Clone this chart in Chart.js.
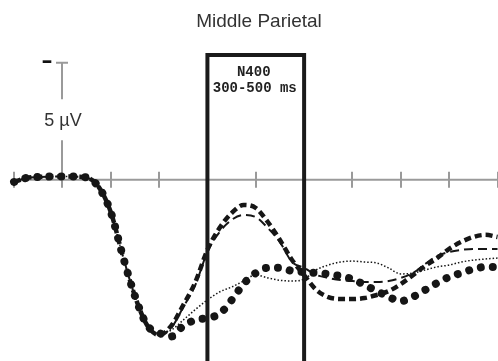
<!DOCTYPE html>
<html>
<head>
<meta charset="utf-8">
<script src="https://cdn.jsdelivr.net/npm/chart.js@4.4.1/dist/chart.umd.min.js"></script>
<style>
  html, body { margin: 0; padding: 0; background: #fff; }
  #erp { display: block; }
</style>
</head>
<body>
<canvas id="erp" width="498" height="361"></canvas>
<script>
// time points (ms) and amplitudes (µV, positive plotted down)
const times = [-100, -75, -50, -25, 0, 25, 50, 75, 100, 125, 150, 175, 200, 225, 250, 275, 300, 325, 350, 375,
  400, 425, 450, 475, 500, 525, 550, 575, 600, 625, 650, 675, 700, 725, 750, 775, 800, 825, 850, 875, 900];

const thickDashed = [0.1, -0.07, -0.11, -0.13, -0.13, -0.13, -0.09, 0.31, 1.38, 3.26, 4.97, 6.21, 6.64,
  6.25, 5.36, 4.38, 3.0, 2.07, 1.43, 1.08, 1.21, 1.81, 2.58, 3.43, 4.08, 4.71, 5.02, 5.1, 5.1, 5.06,
  4.93, 4.76, 4.46, 4.08, 3.69, 3.35, 2.96, 2.66, 2.45, 2.36, 2.45];

const thinDashed = [0.1, -0.07, -0.11, -0.13, -0.13, -0.13, -0.09, 0.31, 1.38, 3.26, 4.97, 6.21, 6.6,
  6.34, 5.45, 4.5, 3.09, 2.24, 1.72, 1.51, 1.6, 2.07, 2.67, 3.52, 3.77, 4.07, 4.2, 4.29, 4.33, 4.37,
  4.37, 4.33, 4.2, 3.99, 3.61, 3.26, 3.09, 3.0, 2.96, 2.96, 2.96];

const fineDotted = [0.1, -0.07, -0.11, -0.13, -0.13, -0.13, -0.09, 0.31, 1.38, 3.26, 4.97, 6.21, 6.6,
  6.43, 6.0, 5.55, 5.14, 4.8, 4.59, 4.33, 4.07, 4.2, 4.3, 4.33, 4.25, 3.86, 3.65, 3.52, 3.48, 3.52,
  3.56, 3.78, 4.03, 3.99, 3.86, 3.73, 3.65, 3.52, 3.44, 3.39, 3.35];

const bigDots = [0.1, -0.07, -0.11, -0.13, -0.13, -0.13, -0.09, 0.31, 1.38, 3.26, 4.97, 6.21, 6.55,
  6.7, 6.25, 6.0, 5.91, 5.74, 5.15, 4.45, 3.99, 3.77, 3.77, 3.9, 3.95, 3.99, 4.03, 4.12, 4.25, 4.5,
  4.76, 5.01, 5.19, 5.01, 4.72, 4.42, 4.16, 3.99, 3.82, 3.73, 3.73];

// N400 window and x axis ticks
const windowStart = 300;
const windowEnd = 500;
const windowTop = -5.33;
const tickValues = [-100, 0, 100, 200, 300, 400, 500, 600, 700, 800, 900];
const scaleBar = 5;

const ink = "#161616";
const axisGray = "#9a9a9a";

const toPoints = (vals) => vals.map((v, i) => ({ x: times[i], y: v }));

//Decorations: axis, scale bar and the texts
const erpDecor = {
  id: "erpDecor",
  beforeDatasetsDraw(chart) {
    const { ctx, scales: { x, y } } = chart;
    const y0 = y.getPixelForValue(0);
    ctx.save();
    ctx.strokeStyle = axisGray;
    ctx.lineWidth = 2;
    ctx.beginPath();
    ctx.moveTo(x.getPixelForValue(-105), y0);
    ctx.lineTo(x.getPixelForValue(901), y0);
    ctx.stroke();
    tickValues.forEach((t) => {
      const px = Math.round(x.getPixelForValue(t));
      ctx.beginPath();
      ctx.moveTo(px, y0 - 8);
      ctx.lineTo(px, y0 + 8);
      ctx.stroke();
    });

    // scale bar on the zero line
    const bx = Math.round(x.getPixelForValue(0));
    const top = y.getPixelForValue(-scaleBar);
    const mid = y.getPixelForValue(-scaleBar / 2) - 1;
    ctx.beginPath();
    ctx.moveTo(bx, top);
    ctx.lineTo(bx, mid - 21);
    ctx.moveTo(bx, mid + 20);
    ctx.lineTo(bx, y0);
    ctx.moveTo(bx - 6, top);
    ctx.lineTo(bx + 6, top);
    ctx.stroke();

    ctx.fillStyle = "#333";
    ctx.font = "18px 'Liberation Sans', Arial, sans-serif";
    ctx.textAlign = "center";
    ctx.textBaseline = "middle";
    ctx.fillText("5 µV", bx + 1, mid + 1);

    // polarity sign (negative up)
    ctx.fillStyle = "#111";
    ctx.font = "bold 22px 'DejaVu Sans', sans-serif";
    ctx.fillText("–", bx - 15, top);
    ctx.restore();
  },
  afterDatasetsDraw(chart) {
    const { ctx, scales: { x, y } } = chart;
    ctx.save();
    ctx.fillStyle = "#333";
    ctx.textAlign = "center";
    ctx.textBaseline = "middle";
    ctx.font = "19px 'Liberation Sans', Arial, sans-serif";
    ctx.fillText("Middle Parietal", 259, 22);

    const cx = x.getPixelForValue((windowStart + windowEnd) / 2);
    const boxTop = y.getPixelForValue(windowTop);
    ctx.fillStyle = "#222";
    ctx.font = "bold 14px 'Liberation Mono', 'Courier New', monospace";
    ctx.fillText("N400", cx - 2, boxTop + 18);
    ctx.fillText("300-500 ms", cx - 1, boxTop + 34);
    ctx.restore();
  },
};

let erpChart = new Chart(document.getElementById("erp"), {
  type: "line",
  plugins: [erpDecor],
  data: {
    datasets: [
      {
        // N400 window box
        data: [
          { x: windowStart, y: 7.75 },
          { x: windowStart, y: windowTop },
          { x: windowEnd, y: windowTop },
          { x: windowEnd, y: 7.75 },
        ],
        borderColor: "#1a1a1a",
        borderWidth: 4,
        borderJoinStyle: "miter",
        tension: 0,
        pointRadius: 0,
      },
      {
        data: toPoints(bigDots),
        borderColor: ink,
        borderWidth: 8,
        borderCapStyle: "round",
        borderDash: [0.01, 12],
        cubicInterpolationMode: "monotone",
        pointRadius: 0,
      },
      {
        data: toPoints(thickDashed),
        borderColor: ink,
        borderWidth: 4.5,
        borderDash: [7, 4],
        cubicInterpolationMode: "monotone",
        pointRadius: 0,
      },
      {
        data: toPoints(thinDashed),
        borderColor: ink,
        borderWidth: 2,
        borderDash: [9, 5],
        cubicInterpolationMode: "monotone",
        pointRadius: 0,
      },
      {
        data: toPoints(fineDotted),
        borderColor: ink,
        borderWidth: 1.5,
        borderDash: [1.5, 2],
        cubicInterpolationMode: "monotone",
        pointRadius: 0,
      },
    ],
  },
  options: {
    responsive: false,
    animation: false,
    devicePixelRatio: 1,
    layout: { padding: { top: 39.25, left: 0, right: 0, bottom: 0 } },
    scales: {
      x: { type: "linear", min: -129, max: 901, display: false },
      y: { type: "linear", min: -6, max: 7.75, reverse: true, display: false },
    },
    plugins: {
      legend: { display: false },
      tooltip: { enabled: false },
    },
  },
});
</script>
</body>
</html>
